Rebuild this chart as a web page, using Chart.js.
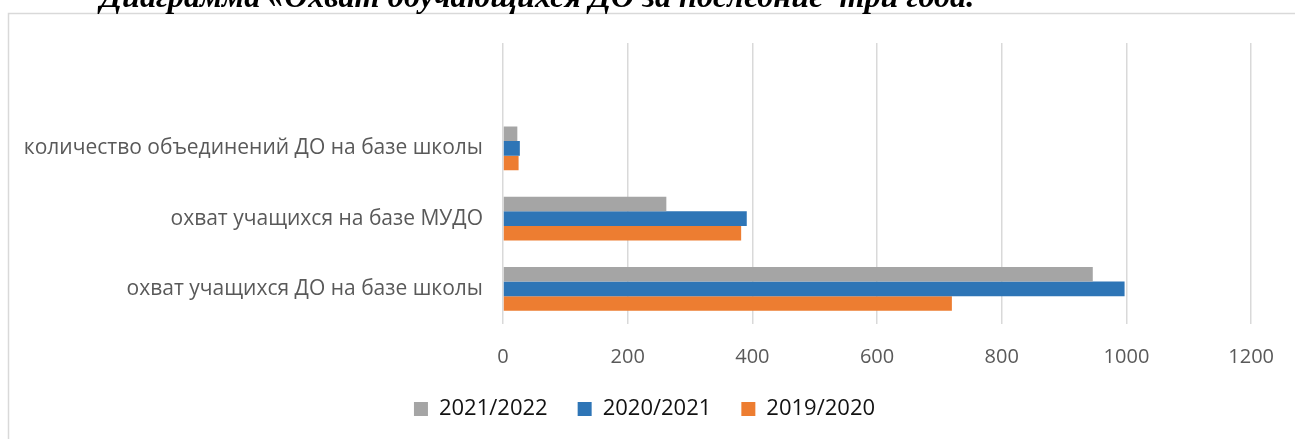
<!DOCTYPE html>
<html>
<head>
<meta charset="utf-8">
<script src="https://cdn.jsdelivr.net/npm/chart.js@4"></script>
<style>
  html, body { margin: 0; padding: 0; background: #fff; }
  canvas { display: block; }
</style>
</head>
<body>
<canvas id="chart" width="1295" height="439"></canvas>
<script>
// categories top-down (first slot is empty, like in the source sheet)
var categories = ['', 'количество объединений ДО на базе школы', 'охват учащихся на базе МУДО', 'охват учащихся ДО на базе школы'];
var seriesNames = ['2021/2022', '2020/2021', '2019/2020'];
var values2122 = [null, 23, 262, 946];
var values2021 = [null, 27, 391, 997];
var values1920 = [null, 25, 382, 720];
var xTicks = [0, 200, 400, 600, 800, 1000, 1200];
var titleText = 'Диаграмма «Охват обучающихся ДО за последние  три года.';

var colors = ['#a5a5a5', '#2e75b6', '#ed7d31'];

// white page, frame and the clipped heading above the chart
var framePlugin = {
    id: 'frame',
    afterLayout: function(chart){
        // let the long category label run past the axis box (no clipping)
        chart.scales.y.left = 0;
    },
    beforeDraw: function(chart){
        var ctx = chart.ctx;
        ctx.save();
        ctx.fillStyle = '#fff';
        ctx.fillRect(0, 0, chart.width, chart.height);
        ctx.strokeStyle = '#d9d9d9';
        ctx.lineWidth = 1.5;
        ctx.beginPath();
        ctx.moveTo(8.5, chart.height);
        ctx.lineTo(8.5, 13.5);
        ctx.lineTo(chart.width, 13.5);
        ctx.stroke();
        // heading: fit to the span it takes in the reference
        var size = 28;
        ctx.font = 'italic bold ' + size + 'px "Liberation Serif"';
        var w = ctx.measureText(titleText).width;
        size = size * 875 / w;
        ctx.font = 'italic bold ' + size.toFixed(1) + 'px "Liberation Serif"';
        ctx.fillStyle = '#000';
        ctx.textBaseline = 'alphabetic';
        ctx.textAlign = 'left';
        ctx.fillText(titleText, 100, 7);
        ctx.restore();
    }
};

var ctx = document.getElementById('chart').getContext('2d');
var myChart = new Chart(ctx, {
    type: 'bar',
    data: {
        labels: categories,
        datasets: [
            { label: seriesNames[0], data: values2122, backgroundColor: colors[0] },
            { label: seriesNames[1], data: values2021, backgroundColor: colors[1] },
            { label: seriesNames[2], data: values1920, backgroundColor: colors[2] }
        ]
    },
    options: {
        indexAxis: 'y',
        responsive: false,
        animation: false,
        devicePixelRatio: 1,
        categoryPercentage: 0.62,
        barPercentage: 1,
        layout: {
            padding: { left: 36, top: 43, right: 42, bottom: 9 }
        },
        scales: {
            x: {
                min: 0,
                max: 1200,
                afterBuildTicks: function(scale){
                    scale.ticks = xTicks.map(function(v){ return {value: v}; });
                },
                afterFit: function(scale){ scale.height = 44; },
                grid: { color: '#d9d9d9', lineWidth: 1.5, drawTicks: false },
                border: { display: false },
                ticks: {
                    color: '#595959',
                    padding: 21,
                    font: { family: 'Open Sans', size: 20 },
                    callback: function(v){ return String(v); }
                }
            },
            y: {
                afterFit: function(scale){ scale.width = 467; },
                grid: { display: false, drawTicks: false },
                border: { display: false },
                ticks: {
                    color: '#595959',
                    padding: 20,
                    font: { family: 'Open Sans', size: 21 }
                }
            }
        },
        plugins: {
            legend: {
                position: 'bottom',
                labels: {
                    boxWidth: 14,
                    boxHeight: 14,
                    padding: 30,
                    color: '#111',
                    font: { family: 'Open Sans', size: 22 }
                }
            },
            tooltip: { enabled: false }
        }
    },
    plugins: [framePlugin]
});
</script>
</body>
</html>
